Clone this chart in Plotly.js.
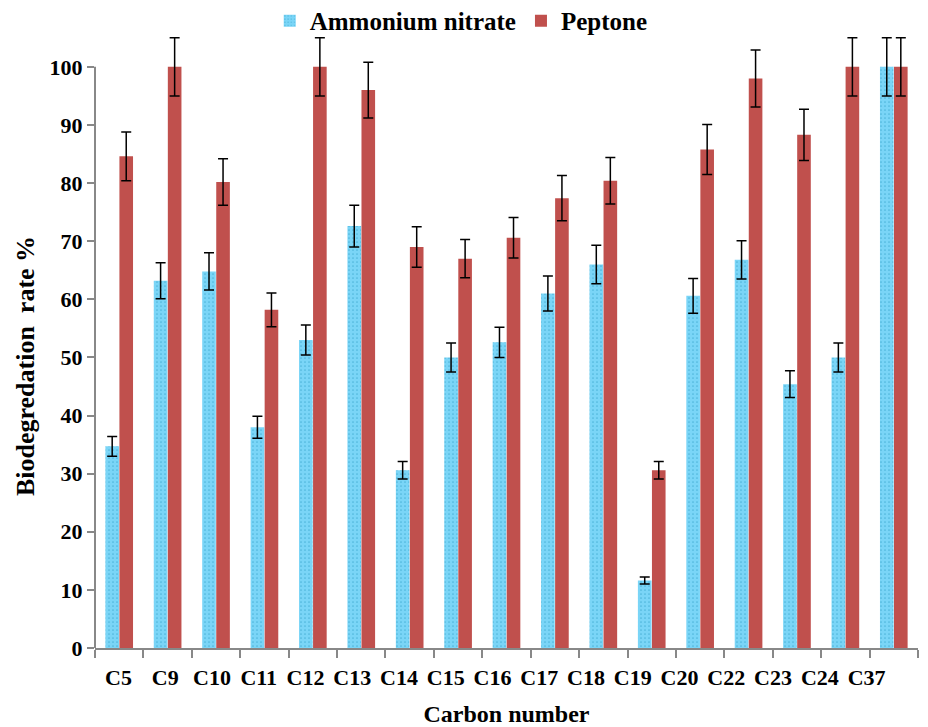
<!DOCTYPE html>
<html>
<head>
<meta charset="utf-8">
<script src="https://cdn.plot.ly/plotly-3.0.1.min.js"></script>
<style>html,body{margin:0;padding:0;background:#fff;}#chart{width:928px;height:727px;}</style>
</head>
<body>
<div id="chart"></div>
<script>
var categories = ["C5","C9","C10","C11","C12","C13","C14","C15","C16","C17","C18","C19","C20","C22","C23","C24","C37"];
var ammoniumNitrate = [34.7, 63.2, 64.8, 38.0, 53.0, 72.6, 30.6, 50.0, 52.6, 61.0, 66.0, 11.6, 60.6, 66.8, 45.4, 50.0, 100];
var ammoniumErr =     [1.7, 3.1, 3.2, 1.9, 2.6, 3.6, 1.5, 2.5, 2.6, 3.0, 3.3, 0.6, 3.0, 3.3, 2.3, 2.5, 5.0];
var peptone = [84.6, 100, 80.2, 58.2, 100, 96.0, 69.0, 67.0, 70.6, 77.4, 80.4, 30.6, 85.8, 98.0, 88.3, 100, 100];
var peptoneErr = [4.2, 5.0, 4.0, 2.9, 5.0, 4.8, 3.5, 3.3, 3.5, 3.9, 4.0, 1.5, 4.3, 4.9, 4.4, 5.0, 5.0];
var yTicks = [0,10,20,30,40,50,60,70,80,90,100];

var font = "Liberation Serif, Times New Roman, serif";
var labelPositions = categories.map(function (c, i) { return i; });

var traces = [
  {
    type: "bar", name: "Ammonium nitrate", x: categories, y: ammoniumNitrate,
    marker: {color: "#74d2f5", line: {width: 0},
      pattern: {shape: ".", fgcolor: "#4fb6dc", bgcolor: "#7ad5f7", size: 4, solidity: 0.15}},
    error_y: {type: "data", array: ammoniumErr, visible: true, color: "#000", thickness: 1.5, width: 5}
  },
  {
    type: "bar", name: "Peptone", x: categories, y: peptone,
    marker: {color: "#c0504d", line: {width: 0}},
    error_y: {type: "data", array: peptoneErr, visible: true, color: "#000", thickness: 1.5, width: 5}
  },
  {
    type: "scatter", mode: "markers", x: labelPositions, y: labelPositions.map(function(){return null;}),
    xaxis: "x2", yaxis: "y", showlegend: false, hoverinfo: "skip"
  }
];

var layout = {
  width: 928, height: 727,
  margin: {l: 95, r: 10, t: 32, b: 79, autoexpand: false},
  paper_bgcolor: "#fff", plot_bgcolor: "rgba(0,0,0,0)",
  barmode: "group", bargap: 0.42, bargroupgap: 0.03,
  font: {family: font, color: "#000"},
  showlegend: true,
  legend: {orientation: "h", x: 0.445, xanchor: "center", y: 1.018, yanchor: "middle",
    bgcolor: "rgba(0,0,0,0)",
    font: {family: font, size: 25, color: "#000", weight: "bold"}, itemwidth: 30, traceorder: "normal"},
  xaxis: {
    type: "category", showline: true, linecolor: "#888", linewidth: 2,
    ticks: "outside", tickson: "boundaries", ticklen: 8, tickcolor: "#888", tickwidth: 2,
    showticklabels: false,
    showgrid: false, zeroline: false,
    title: {text: "Carbon number", font: {family: font, size: 24, color: "#000", weight: "bold"}, standoff: 56}
  },
  xaxis2: {
    type: "linear", overlaying: "x", anchor: "y", side: "bottom",
    range: [-0.503, 17.10],
    tickmode: "array", tickvals: labelPositions, ticktext: categories,
    ticks: "outside", ticklen: 10, tickcolor: "rgba(0,0,0,0)",
    tickfont: {family: font, size: 22, color: "#000", weight: "bold"},
    showline: false, showgrid: false, zeroline: false
  },
  yaxis: {
    range: [0, 106], tickvals: yTicks, ticktext: yTicks.map(String),
    showline: false,
    ticks: "outside", ticklen: 7, tickcolor: "#888", tickwidth: 2,
    tickfont: {family: font, size: 22, color: "#000", weight: "bold"},
    showgrid: false, zeroline: false,
    title: {text: "Biodegredation&nbsp; rate %&nbsp;&nbsp;&nbsp;&nbsp;&nbsp;&nbsp;&nbsp;&nbsp;", font: {family: font, size: 26, color: "#000", weight: "bold"}, standoff: 7}
  },
  shapes: [
    {type: "line", xref: "paper", yref: "y", x0: 0, x1: 0, y0: 0, y1: 100,
     line: {color: "#888", width: 2}, layer: "above"}
  ]
};

Plotly.newPlot("chart", traces, layout, {displayModeBar: false, staticPlot: true});
</script>
</body>
</html>
